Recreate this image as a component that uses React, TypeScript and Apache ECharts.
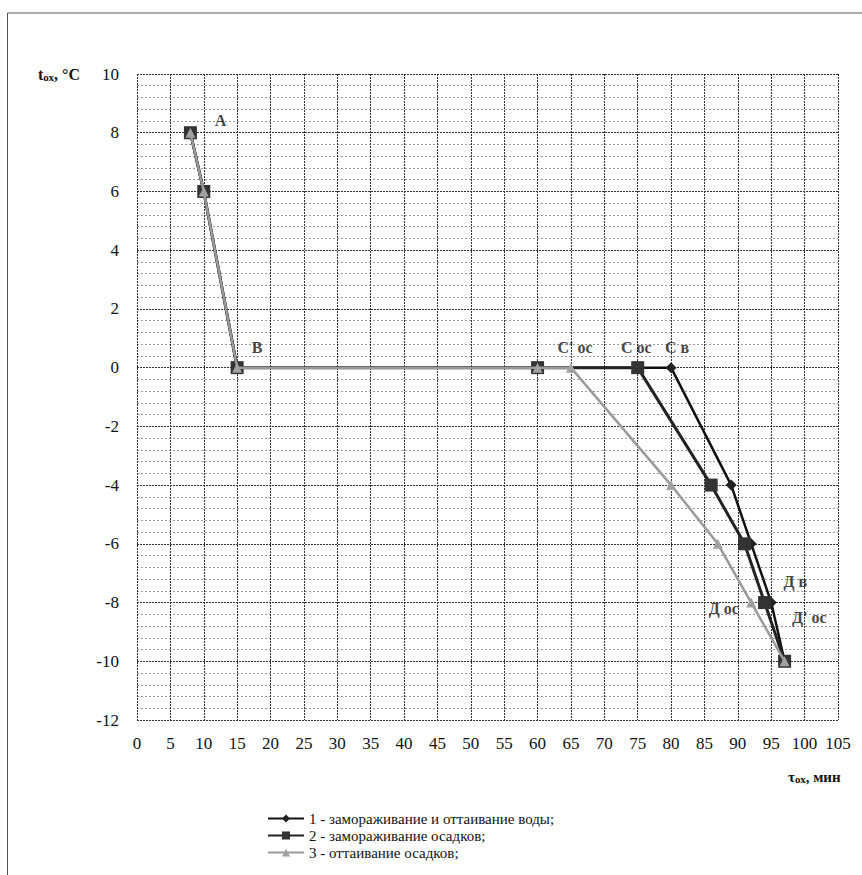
import React, { useEffect, useRef } from "react";
import * as echarts from "echarts";

const seriesNames = [
  "1 - замораживание и оттаивание воды;",
  "2 - замораживание осадков;",
  "3 - оттаивание осадков;",
];

const waterX = [8, 10, 15, 60, 80, 89, 92, 95, 97];
const waterY = [8, 6, 0, 0, 0, -4, -6, -8, -10];

const freezeX = [8, 10, 15, 60, 75, 86, 91, 94, 97];
const freezeY = [8, 6, 0, 0, 0, -4, -6, -8, -10];

const thawX = [8, 10, 15, 60, 65, 80, 87, 92, 97];
const thawY = [8, 6, 0, 0, 0, -4, -6, -8, -10];

const annotationText = ["А", "В", "С' ос", "С ос", "С в", "Д в", "Д ос", "Д' ос"];
const annotationX = [12.5, 18, 65.6, 74.8, 80.9, 98.6, 87.9, 100.7];
const annotationY = [8.4, 0.7, 0.7, 0.7, 0.7, -7.3, -8.2, -8.5];

const xTicks = { min: 0, max: 105, interval: 5 };
const yTicks = { min: -12, max: 10, interval: 2 };

const FONT = "'Liberation Serif', 'DejaVu Serif', serif";

function pairs(xs: number[], ys: number[]) {
  return xs.map((x, i) => [x, ys[i]]);
}

export default function App() {
  const ref = useRef<HTMLDivElement>(null);
  useEffect(() => {
    document.body.style.margin = "0";
    if (!ref.current) return;
    const chart = echarts.init(ref.current, undefined, { renderer: "svg" });
    const majorLine = { show: true, lineStyle: { color: "#333", width: 1, type: [2, 1] } };
    const option: any = {
      animation: false,
      backgroundColor: "#fff",
      textStyle: { fontFamily: FONT },
      grid: { left: 137, right: 24, top: 74, bottom: 155, containLabel: false },
      graphic: [
        {
          type: "rect",
          shape: { x: 7.5, y: 13, width: 860, height: 870 },
          style: { fill: "none", stroke: "#555", lineWidth: 1 },
          silent: true,
          z: -1,
        },
        {
          type: "text",
          x: 38,
          y: 66,
          style: {
            text: "{t|t}{s|ох}{t|, °C}",
            rich: {
              t: { fontFamily: FONT, fontSize: 16, fontWeight: "bold", fill: "#111" },
              s: { fontFamily: FONT, fontSize: 11, fontWeight: "bold", fill: "#111", padding: [5, 0, 0, 0] },
            },
          },
        },
        {
          type: "text",
          x: 788,
          y: 769,
          style: {
            text: "{t|τ}{s|ох}{t|, мин}",
            rich: {
              t: { fontFamily: FONT, fontSize: 15, fontWeight: "bold", fill: "#111" },
              s: { fontFamily: FONT, fontSize: 11, fontWeight: "bold", fill: "#111", padding: [4, 0, 0, 0] },
            },
          },
        },
      ],
      legend: {
        data: seriesNames,
        orient: "vertical",
        left: 262,
        top: 806,
        itemGap: 2,
        itemWidth: 36,
        itemHeight: 10,
        textStyle: { fontFamily: FONT, fontSize: 15, color: "#111" },
      },
      xAxis: {
        type: "value",
        min: xTicks.min,
        max: xTicks.max,
        interval: xTicks.interval,
        axisLine: { show: false },
        axisTick: { show: false },
        axisLabel: { fontFamily: FONT, fontSize: 17, color: "#111", margin: 15 },
        splitLine: majorLine,
      },
      yAxis: {
        type: "value",
        min: yTicks.min,
        max: yTicks.max,
        interval: yTicks.interval,
        axisLine: { show: false },
        axisTick: { show: false },
        axisLabel: { fontFamily: FONT, fontSize: 17, color: "#111", margin: 18 },
        splitLine: majorLine,
        minorTick: { show: false, splitNumber: 5 },
        minorSplitLine: { show: true, lineStyle: { color: "#999", width: 1, type: [2, 2] } },
      },
      series: [
        {
          name: seriesNames[0],
          type: "line",
          data: pairs(waterX, waterY),
          symbol: "diamond",
          symbolSize: 11,
          lineStyle: { color: "#111", width: 2.5 },
          itemStyle: { color: "#222" },
          z: 3,
        },
        {
          name: seriesNames[1],
          type: "line",
          data: pairs(freezeX, freezeY),
          symbol: "rect",
          symbolSize: 13,
          lineStyle: { color: "#222", width: 3 },
          itemStyle: { color: "#333" },
          z: 4,
        },
        {
          name: seriesNames[2],
          type: "line",
          data: pairs(thawX, thawY),
          symbol: "triangle",
          symbolSize: 10,
          lineStyle: { color: "#9a9a9a", width: 2.5 },
          itemStyle: { color: "#a0a0a0" },
          z: 5,
        },
        {
          name: "labels",
          type: "scatter",
          data: annotationX.map((x, i) => ({ value: [x, annotationY[i]], name: annotationText[i] })),
          symbolSize: 1,
          itemStyle: { color: "transparent" },
          label: {
            show: true,
            position: "inside",
            formatter: (p: any) => p.name,
            fontFamily: FONT,
            fontSize: 16,
            fontWeight: "bold",
            color: "#111",
          },
          silent: true,
          z: 6,
        },
      ],
    };
    chart.setOption(option);
    return () => chart.dispose();
  }, []);
  return <div ref={ref} style={{ width: 862, height: 875 }} />;
}
